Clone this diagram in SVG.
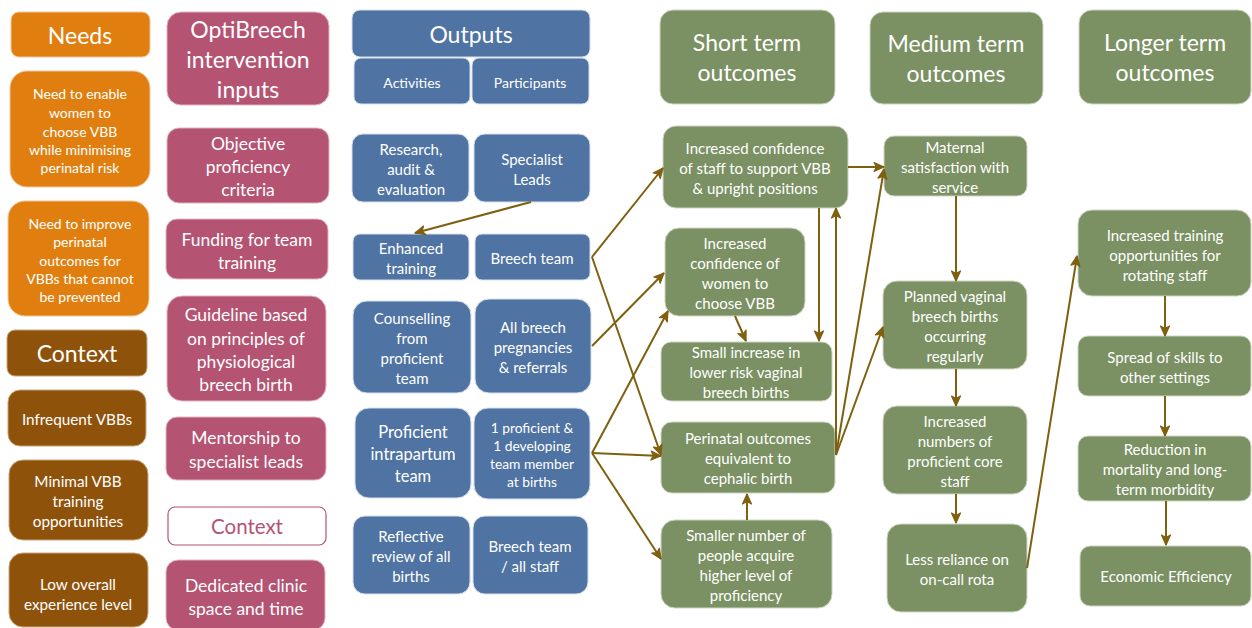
<svg xmlns="http://www.w3.org/2000/svg" width="1252" height="628" viewBox="0 0 1252 628">
<defs>
<style>
text{font-family:Lato,"Open Sans","Liberation Sans",sans-serif;fill:#fff;text-anchor:middle;dominant-baseline:central}
.or{fill:#E07F10;stroke:#f3c79a;stroke-width:1}
.br{fill:#8F520B;stroke:#c9a47a;stroke-width:1}
.pk{fill:#B45372;stroke:#e2b4c2;stroke-width:1}
.bl{fill:#4F73A3;stroke:#d7e0ec;stroke-width:1}
.gr{fill:#7B9163;stroke:#cdd6c3;stroke-width:1}
.h{font-size:23px}
.s14{font-size:14px}
.c15{font-size:15.3px}
.s15{font-size:15px}
.s17{font-size:17.5px}
.con line,.con path{stroke:#7F6010;stroke-width:2;fill:none;marker-end:url(#ah)}
</style>
<marker id="ah" viewBox="0 0 12 12" refX="11" refY="6" markerWidth="12" markerHeight="12" markerUnits="userSpaceOnUse" orient="auto">
<path d="M1,1.5 L11,6 L1,10.5 L3.5,6 Z" fill="#7F6010" stroke="#7F6010" stroke-width="1.2" stroke-linejoin="round"/>
</marker>
</defs>
<rect width="1252" height="628" fill="#fff"/>

<!-- Needs column -->
<g id="needs"><rect class="or" x="11" y="12" width="139" height="45" rx="8"/><text class="h" x="80" y="35">Needs</text></g>
<g id="need1"><rect class="or" x="10" y="71" width="140" height="116" rx="17"/>
<text class="s14" x="80" y="93">Need to enable</text><text class="s14" x="80" y="112">women to</text><text class="s14" x="80" y="131">choose VBB</text><text class="s14" x="80" y="149">while minimising</text><text class="s14" x="80" y="167">perinatal risk</text></g>
<g id="need2"><rect class="or" x="8" y="201" width="141" height="115" rx="17"/>
<text class="s14" x="80" y="223">Need to improve</text><text class="s14" x="80" y="241">perinatal</text><text class="s14" x="80" y="260">outcomes for</text><text class="s14" x="80" y="278">VBBs that cannot</text><text class="s14" x="80" y="296">be prevented</text></g>
<g id="context1"><rect class="br" x="7" y="330" width="140" height="46" rx="8"/><text class="h" x="77" y="353">Context</text></g>
<g id="ctx-infrequent"><rect class="br" x="8" y="390" width="138" height="56" rx="12"/><text class="c15" x="77" y="419">Infrequent VBBs</text></g>
<g id="ctx-minimal"><rect class="br" x="9" y="460" width="139" height="80" rx="14"/>
<text class="c15" x="78" y="481">Minimal VBB</text><text class="c15" x="78" y="501">training</text><text class="c15" x="78" y="521">opportunities</text></g>
<g id="ctx-low"><rect class="br" x="9" y="553" width="139" height="74" rx="14"/>
<text class="c15" x="78" y="584">Low overall</text><text class="c15" x="78" y="604">experience level</text></g>

<!-- Inputs column -->
<g id="inputs"><rect class="pk" x="167" y="12" width="162" height="93" rx="14"/>
<text class="h" x="248" y="29">OptiBreech</text><text class="h" x="248" y="59">intervention</text><text class="h" x="248" y="89">inputs</text></g>
<g id="in-objective"><rect class="pk" x="167" y="128" width="162" height="75" rx="12"/>
<text class="s17" x="248" y="143">Objective</text><text class="s17" x="248" y="166">proficiency</text><text class="s17" x="248" y="189">criteria</text></g>
<g id="in-funding"><rect class="pk" x="166" y="219" width="162" height="60" rx="11"/>
<text class="s17" x="247" y="239">Funding for team</text><text class="s17" x="247" y="262">training</text></g>
<g id="in-guideline"><rect class="pk" x="167" y="296" width="159" height="105" rx="15"/>
<text class="s17" x="246" y="314">Guideline based</text><text class="s17" x="246" y="338">on principles of</text><text class="s17" x="246" y="361">physiological</text><text class="s17" x="246" y="384">breech birth</text></g>
<g id="in-mentorship"><rect class="pk" x="166" y="417" width="160" height="63" rx="11"/>
<text class="s17" x="246" y="437">Mentorship to</text><text class="s17" x="246" y="461">specialist leads</text></g>
<g id="in-context"><rect x="168" y="507" width="158" height="38" rx="7" fill="#fff" stroke="#B45372" stroke-width="1.2"/>
<text x="247" y="526" style="font-size:20.5px;fill:#B45372">Context</text></g>
<g id="in-clinic"><rect class="pk" x="166" y="560" width="159" height="70" rx="12"/>
<text class="s17" x="246" y="585">Dedicated clinic</text><text class="s17" x="246" y="608">space and time</text></g>

<!-- Outputs column -->
<g id="outputs"><rect class="bl" x="352" y="10" width="238" height="47" rx="8"/><text class="h" x="471" y="34">Outputs</text></g>
<g id="activities"><rect class="bl" x="354" y="58" width="116" height="46" rx="7"/><text class="s14" x="412" y="82">Activities</text></g>
<g id="participants"><rect class="bl" x="472" y="58" width="117" height="46" rx="7"/><text class="s14" x="530" y="82">Participants</text></g>
<g id="act-research"><rect class="bl" x="352" y="134" width="117" height="68" rx="11"/>
<text class="s15" x="411" y="149">Research,</text><text class="s15" x="411" y="169">audit &amp;</text><text class="s15" x="411" y="189">evaluation</text></g>
<g id="par-specialist"><rect class="bl" x="474" y="134" width="116" height="68" rx="11"/>
<text class="s15" x="532" y="159">Specialist</text><text class="s15" x="532" y="179">Leads</text></g>
<g id="act-training"><rect class="bl" x="353" y="234" width="116" height="46" rx="7"/>
<text class="s15" x="411" y="248">Enhanced</text><text class="s15" x="411" y="268">training</text></g>
<g id="par-breech"><rect class="bl" x="475" y="234" width="115" height="46" rx="7"/><text class="s15" x="532" y="258">Breech team</text></g>
<g id="act-counselling"><rect class="bl" x="353" y="301" width="118" height="92" rx="14"/>
<text class="s15" x="412" y="318">Counselling</text><text class="s15" x="412" y="338">from</text><text class="s15" x="412" y="358">proficient</text><text class="s15" x="412" y="378">team</text></g>
<g id="par-allbreech"><rect class="bl" x="475" y="299" width="116" height="94" rx="14"/>
<text class="s15" x="533" y="327">All breech</text><text class="s15" x="533" y="347">pregnancies</text><text class="s15" x="533" y="367">&amp; referrals</text></g>
<g id="act-intrapartum"><rect class="bl" x="355" y="408" width="116" height="90" rx="14"/>
<text x="413" y="432" style="font-size:16.5px">Proficient</text><text x="413" y="454" style="font-size:16.5px">intrapartum</text><text x="413" y="476" style="font-size:16.5px">team</text></g>
<g id="par-proficient"><rect class="bl" x="474" y="408" width="116" height="91" rx="14"/>
<text x="532" y="427" style="font-size:13.8px">1 proficient &amp;</text><text x="532" y="445" style="font-size:13.8px">1 developing</text><text x="532" y="463" style="font-size:13.8px">team member</text><text x="532" y="481" style="font-size:13.8px">at births</text></g>
<g id="act-reflective"><rect class="bl" x="353" y="516" width="117" height="78" rx="12"/>
<text class="s15" x="411" y="536">Reflective</text><text class="s15" x="411" y="556">review of all</text><text class="s15" x="411" y="576">births</text></g>
<g id="par-allstaff"><rect class="bl" x="473" y="516" width="115" height="78" rx="12"/>
<text class="s15" x="530" y="546">Breech team</text><text class="s15" x="530" y="566">/ all staff</text></g>

<!-- Short term -->
<g id="short"><rect class="gr" x="660" y="10" width="175" height="94" rx="13"/>
<text class="h" x="747" y="42">Short term</text><text class="h" x="747" y="72">outcomes</text></g>
<g id="st-staff"><rect class="gr" x="663" y="126" width="185" height="82" rx="13"/>
<text class="s15" x="755" y="148">Increased confidence</text><text class="s15" x="755" y="168">of staff to support VBB</text><text class="s15" x="755" y="188">&amp; upright positions</text></g>
<g id="st-women"><rect class="gr" x="665" y="228" width="140" height="88" rx="14"/>
<text class="s15" x="735" y="243">Increased</text><text class="s15" x="735" y="263">confidence of</text><text class="s15" x="735" y="283">women to</text><text class="s15" x="735" y="303">choose VBB</text></g>
<g id="st-small"><rect class="gr" x="661" y="342" width="171" height="59" rx="10"/>
<text class="s15" x="746" y="352">Small increase in</text><text class="s15" x="746" y="372">lower risk vaginal</text><text class="s15" x="746" y="392">breech births</text></g>
<g id="st-perinatal"><rect class="gr" x="661" y="422" width="174" height="71" rx="11"/>
<text class="s15" x="748" y="438">Perinatal outcomes</text><text class="s15" x="748" y="458">equivalent to</text><text class="s15" x="748" y="478">cephalic birth</text></g>
<g id="st-smaller"><rect class="gr" x="661" y="520" width="171" height="88" rx="14"/>
<text class="s15" x="746" y="535">Smaller number of</text><text class="s15" x="746" y="555">people acquire</text><text class="s15" x="746" y="575">higher level of</text><text class="s15" x="746" y="595">proficiency</text></g>

<!-- Medium term -->
<g id="medium"><rect class="gr" x="870" y="12" width="173" height="92" rx="13"/>
<text class="h" x="956" y="43">Medium term</text><text class="h" x="956" y="73">outcomes</text></g>
<g id="mt-maternal"><rect class="gr" x="884" y="136" width="143" height="60" rx="10"/>
<text class="s15" x="955" y="147">Maternal</text><text class="s15" x="955" y="167">satisfaction with</text><text class="s15" x="955" y="187">service</text></g>
<g id="mt-planned"><rect class="gr" x="883" y="281" width="144" height="88" rx="14"/>
<text class="s15" x="955" y="296">Planned vaginal</text><text class="s15" x="955" y="316">breech births</text><text class="s15" x="955" y="336">occurring</text><text class="s15" x="955" y="356">regularly</text></g>
<g id="mt-numbers"><rect class="gr" x="883" y="406" width="144" height="88" rx="14"/>
<text class="s15" x="955" y="421">Increased</text><text class="s15" x="955" y="441">numbers of</text><text class="s15" x="955" y="461">proficient core</text><text class="s15" x="955" y="481">staff</text></g>
<g id="mt-reliance"><rect class="gr" x="887" y="524" width="140" height="88" rx="14"/>
<text class="s15" x="957" y="559">Less reliance on</text><text class="s15" x="957" y="579">on-call rota</text></g>

<!-- Longer term -->
<g id="longer"><rect class="gr" x="1079" y="10" width="172" height="94" rx="13"/>
<text class="h" x="1165" y="42">Longer term</text><text class="h" x="1165" y="72">outcomes</text></g>
<g id="lt-training"><rect class="gr" x="1078" y="210" width="173" height="86" rx="14"/>
<text class="s15" x="1165" y="235">Increased training</text><text class="s15" x="1165" y="255">opportunities for</text><text class="s15" x="1165" y="275">rotating staff</text></g>
<g id="lt-spread"><rect class="gr" x="1078" y="336" width="173" height="60" rx="10"/>
<text class="s15" x="1165" y="357">Spread of skills to</text><text class="s15" x="1165" y="377">other settings</text></g>
<g id="lt-reduction"><rect class="gr" x="1078" y="436" width="173" height="65" rx="10"/>
<text class="s15" x="1165" y="449">Reduction in</text><text class="s15" x="1165" y="469">mortality and long-</text><text class="s15" x="1165" y="489">term morbidity</text></g>
<g id="lt-economic"><rect class="gr" x="1080" y="546" width="171" height="60" rx="10"/>
<text class="s15" x="1166" y="576">Economic Efficiency</text></g>

<!-- Connectors -->
<g id="connectors" class="con">
<line x1="531" y1="202" x2="415" y2="233"/>
<line x1="592" y1="257" x2="663" y2="168"/>
<line x1="592" y1="257" x2="661" y2="455"/>
<line x1="592" y1="346" x2="664" y2="273"/>
<line x1="592" y1="453" x2="668" y2="311"/>
<line x1="592" y1="453" x2="661" y2="456"/>
<line x1="592" y1="453" x2="661" y2="559"/>
<line x1="735" y1="316" x2="746" y2="341"/>
<line x1="819" y1="208" x2="819" y2="341"/>
<line x1="836" y1="455" x2="836" y2="208"/>
<line x1="836" y1="455" x2="884" y2="169"/>
<line x1="836" y1="455" x2="883" y2="327"/>
<line x1="848" y1="167" x2="884" y2="167"/>
<line x1="747" y1="520" x2="747" y2="494"/>
<line x1="956" y1="196" x2="956" y2="281"/>
<line x1="956" y1="369" x2="956" y2="406"/>
<line x1="956" y1="494" x2="956" y2="523"/>
<line x1="1027" y1="568" x2="1077" y2="256"/>
<line x1="1165" y1="296" x2="1165" y2="336"/>
<line x1="1165" y1="396" x2="1165" y2="436"/>
<line x1="1166" y1="501" x2="1166" y2="545"/>
</g>
</svg>
